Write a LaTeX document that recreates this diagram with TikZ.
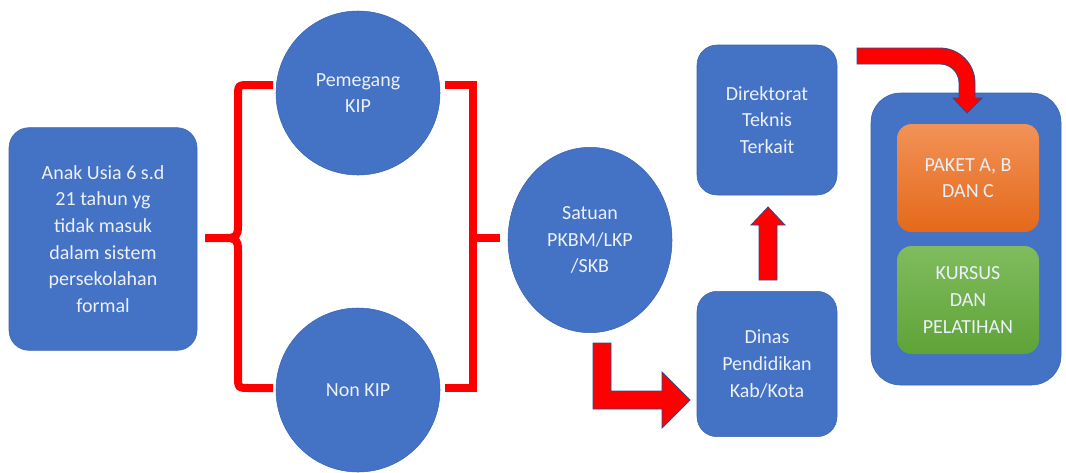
\documentclass[tikz,border=0pt]{standalone}
\usepackage{fontspec}
\setmainfont{Carlito}
\usetikzlibrary{shapes.geometric}
\definecolor{kipblue}{HTML}{4472C4}
\definecolor{kipedge}{HTML}{3A64B0}
\definecolor{kipred}{HTML}{FF0000}
\definecolor{kipline}{HTML}{2F4A8A}
\definecolor{kiptext}{RGB}{236,240,248}
\definecolor{orangetop}{HTML}{F29257}
\definecolor{orangebot}{HTML}{E4691A}
\definecolor{greentop}{HTML}{80BC5E}
\definecolor{greenbot}{HTML}{5FA337}

\begin{document}
\begin{tikzpicture}[x=.75pt,y=-.75pt,font=\fontsize{15}{20}\selectfont,
    box/.style={draw=kipedge,fill=kipblue,text=kiptext,rounded corners=15pt,align=center,inner sep=0pt},
    ball/.style={circle,draw=kipedge,fill=kipblue,text=kiptext,align=center,inner sep=0pt,minimum size=123pt},
    innerbox/.style={rounded corners=11pt,text=kiptext,align=center,inner sep=0pt,minimum width=106.5pt,minimum height=81pt},
    brace/.style={kipred,line width=6pt},
    blockarrow/.style={fill=kipred,draw=kipline,line width=.6pt,line join=miter}]
    \useasboundingbox (0,0) rectangle (1066,472);
    % left: target group and the two kinds
    \node[box,minimum width=141pt,minimum height=167pt] (anak) at (103,239) {Anak Usia 6 s.d\\21 tahun yg\\tidak masuk\\dalam sistem\\persekolahan\\formal};
    \node[ball] (pkip) at (358,93) {Pemegang\\KIP};
    \node[ball] (nkip) at (358,390) {Non KIP};
    \draw[brace] (273,85) -- (250,85) .. controls (238,85) .. (238,97) -- (238,226) .. controls (238,236) and (236,238) .. (226,238) -- (205,238);
    \draw[brace] (273,388) -- (250,388) .. controls (238,388) .. (238,376) -- (238,250) .. controls (238,240) and (236,238) .. (226,238);
    \draw[brace,line join=miter] (445,85) -- (473,85) -- (473,388) -- (445,388);
    \draw[brace] (473,238) -- (500,238);
    % middle
    \node[ellipse,draw=kipedge,fill=kipblue,text=kiptext,align=center,inner sep=0pt,minimum width=123pt,minimum height=139pt] (satuan) at (590,240) {Satuan\\PKBM/LKP\\/SKB};
    \node[box,minimum width=105pt,minimum height=109pt] (dinas) at (767,364) {Dinas\\Pendidikan\\Kab/Kota};
    \node[box,minimum width=105pt,minimum height=112.5pt] (direk) at (767,120) {Direktorat\\Teknis\\Terkait};
    \draw[blockarrow] (593,343) -- (611,343) -- (611,391) -- (662,391) -- (662,372) -- (690,400) -- (662,428) -- (662,409) -- (593,409) -- cycle;
    \draw[blockarrow] (759,280) -- (777,280) -- (777,225) -- (785,225) -- (768,207) -- (751,225) -- (759,225) -- cycle;
    % right: programmes
    \node[box,rounded corners=22pt,minimum width=142.5pt,minimum height=219pt] (wadah) at (966,239) {};
    \node[innerbox,top color=orangetop,bottom color=orangebot] (paket) at (968,178) {PAKET A, B\\DAN C};
    \node[innerbox,top color=greentop,bottom color=greenbot] (kursus) at (968,300) {KURSUS\\DAN\\PELATIHAN};
    \draw[blockarrow] (857,48) -- (940,48) arc[start angle=90,end angle=0,radius=26.25pt] -- (975,98) -- (982,98) -- (967,113) -- (953,98) -- (959,98) -- (959,83) arc[start angle=0,end angle=90,radius=14.25pt] -- (857,64) -- cycle;
\end{tikzpicture}
\end{document}
